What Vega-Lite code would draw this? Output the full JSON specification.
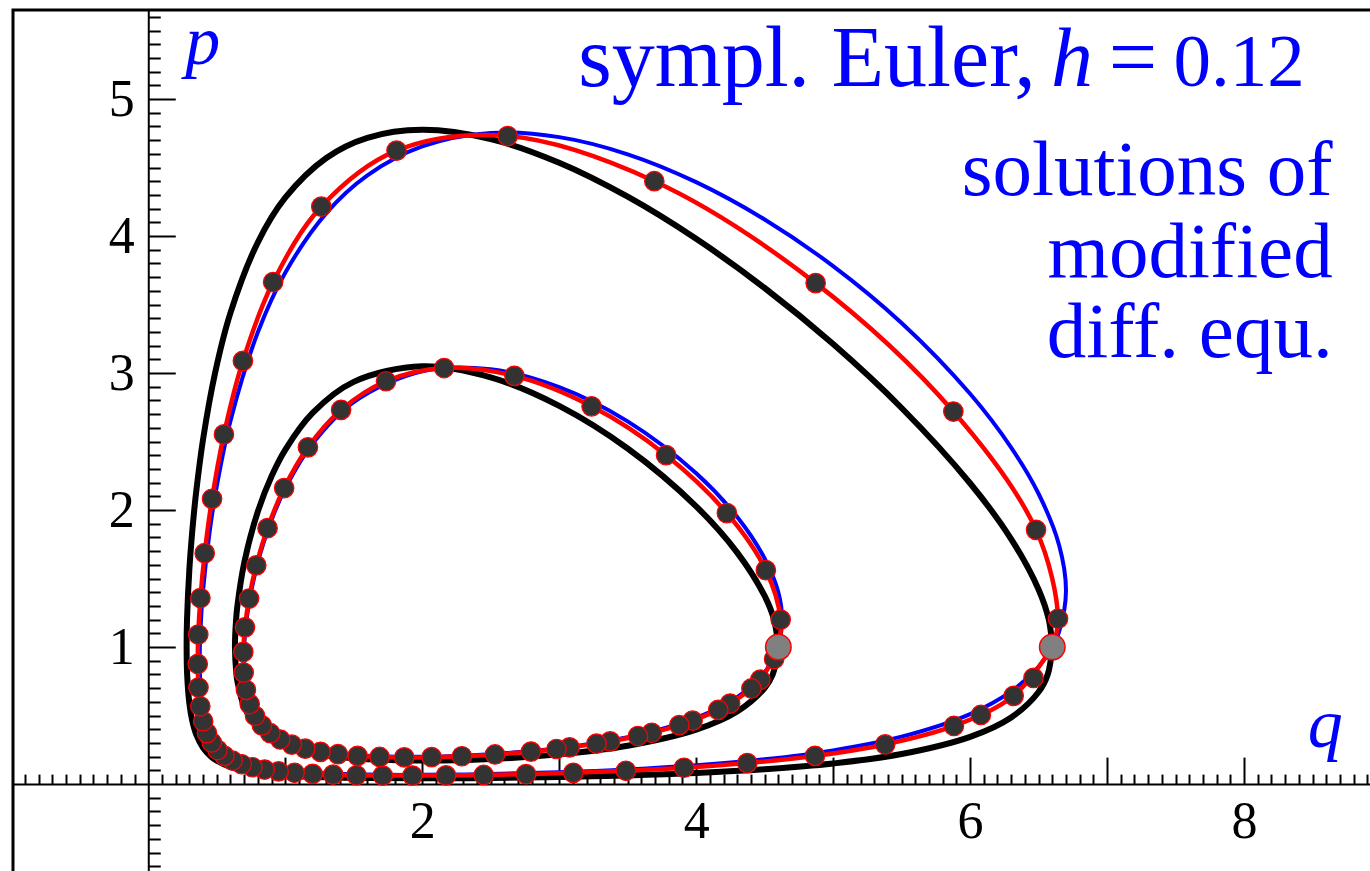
{
  "$schema": "https://vega.github.io/schema/vega-lite/v6.json",
  "width": 1368,
  "height": 870,
  "autosize": {"type": "none"},
  "padding": {"left": 13, "top": 10, "right": 0, "bottom": 0},
  "background": "white",
  "config": {
    "font": "Liberation Serif",
    "view": {"stroke": "black", "strokeWidth": 3},
    "axis": {"grid": false, "title": null},
    "text": {"font": "Liberation Serif"}
  },
  "datasets": {
    "black": [
      {"orbit": "outer", "i": 0, "q": 6.6, "p": 1.0},
      {"orbit": "outer", "i": 1, "q": 6.5668, "p": 0.8},
      {"orbit": "outer", "i": 2, "q": 6.5, "p": 0.6721},
      {"orbit": "outer", "i": 3, "q": 6.3, "p": 0.4865},
      {"orbit": "outer", "i": 4, "q": 6.0, "p": 0.3449},
      {"orbit": "outer", "i": 5, "q": 5.5, "p": 0.2196},
      {"orbit": "outer", "i": 6, "q": 5.0, "p": 0.1504},
      {"orbit": "outer", "i": 7, "q": 4.5, "p": 0.108},
      {"orbit": "outer", "i": 8, "q": 4.0, "p": 0.0806},
      {"orbit": "outer", "i": 9, "q": 3.5, "p": 0.0628},
      {"orbit": "outer", "i": 10, "q": 3.0, "p": 0.0512},
      {"orbit": "outer", "i": 11, "q": 2.5, "p": 0.0444},
      {"orbit": "outer", "i": 12, "q": 2.0, "p": 0.042},
      {"orbit": "outer", "i": 13, "q": 1.6, "p": 0.0441},
      {"orbit": "outer", "i": 14, "q": 1.3, "p": 0.0498},
      {"orbit": "outer", "i": 15, "q": 1.0, "p": 0.0632},
      {"orbit": "outer", "i": 16, "q": 0.8, "p": 0.0822},
      {"orbit": "outer", "i": 17, "q": 0.6, "p": 0.125},
      {"orbit": "outer", "i": 18, "q": 0.5, "p": 0.1705},
      {"orbit": "outer", "i": 19, "q": 0.459, "p": 0.2},
      {"orbit": "outer", "i": 20, "q": 0.4, "p": 0.2651},
      {"orbit": "outer", "i": 21, "q": 0.35, "p": 0.3632},
      {"orbit": "outer", "i": 22, "q": 0.32, "p": 0.468},
      {"orbit": "outer", "i": 23, "q": 0.3, "p": 0.5898},
      {"orbit": "outer", "i": 24, "q": 0.2838, "p": 0.8},
      {"orbit": "outer", "i": 25, "q": 0.28, "p": 1.0},
      {"orbit": "outer", "i": 26, "q": 0.2829, "p": 1.2},
      {"orbit": "outer", "i": 27, "q": 0.3, "p": 1.567},
      {"orbit": "outer", "i": 28, "q": 0.32, "p": 1.833},
      {"orbit": "outer", "i": 29, "q": 0.3356, "p": 2.0},
      {"orbit": "outer", "i": 30, "q": 0.35, "p": 2.134},
      {"orbit": "outer", "i": 31, "q": 0.4, "p": 2.516},
      {"orbit": "outer", "i": 32, "q": 0.4875, "p": 3.0},
      {"orbit": "outer", "i": 33, "q": 0.6, "p": 3.4395},
      {"orbit": "outer", "i": 34, "q": 0.8, "p": 3.9545},
      {"orbit": "outer", "i": 35, "q": 1.0, "p": 4.28},
      {"orbit": "outer", "i": 36, "q": 1.3, "p": 4.57},
      {"orbit": "outer", "i": 37, "q": 1.6, "p": 4.717},
      {"orbit": "outer", "i": 38, "q": 2.0, "p": 4.7755},
      {"orbit": "outer", "i": 39, "q": 2.5, "p": 4.7077},
      {"orbit": "outer", "i": 40, "q": 3.0, "p": 4.5348},
      {"orbit": "outer", "i": 41, "q": 3.5, "p": 4.287},
      {"orbit": "outer", "i": 42, "q": 4.0, "p": 3.9797},
      {"orbit": "outer", "i": 43, "q": 4.5, "p": 3.6209},
      {"orbit": "outer", "i": 44, "q": 5.0, "p": 3.2115},
      {"orbit": "outer", "i": 45, "q": 5.5, "p": 2.7451},
      {"orbit": "outer", "i": 46, "q": 6.0, "p": 2.1959},
      {"orbit": "outer", "i": 47, "q": 6.3, "p": 1.7885},
      {"orbit": "outer", "i": 48, "q": 6.5, "p": 1.4204},
      {"orbit": "outer", "i": 49, "q": 6.5746, "p": 1.2},
      {"orbit": "outer", "i": 50, "q": 6.6, "p": 1.0},
      {"orbit": "inner", "i": 0, "q": 4.6, "p": 1.0},
      {"orbit": "inner", "i": 1, "q": 4.559, "p": 0.8},
      {"orbit": "inner", "i": 2, "q": 4.5, "p": 0.7015},
      {"orbit": "inner", "i": 3, "q": 4.3, "p": 0.5299},
      {"orbit": "inner", "i": 4, "q": 4.0, "p": 0.3972},
      {"orbit": "inner", "i": 5, "q": 3.5, "p": 0.2798},
      {"orbit": "inner", "i": 6, "q": 3.0, "p": 0.217},
      {"orbit": "inner", "i": 7, "q": 2.5, "p": 0.1832},
      {"orbit": "inner", "i": 8, "q": 2.0, "p": 0.1716},
      {"orbit": "inner", "i": 9, "q": 1.5, "p": 0.1881},
      {"orbit": "inner", "i": 10, "q": 1.2, "p": 0.2262},
      {"orbit": "inner", "i": 11, "q": 1.0, "p": 0.282},
      {"orbit": "inner", "i": 12, "q": 0.9, "p": 0.3307},
      {"orbit": "inner", "i": 13, "q": 0.8, "p": 0.41},
      {"orbit": "inner", "i": 14, "q": 0.7, "p": 0.5669},
      {"orbit": "inner", "i": 15, "q": 0.65, "p": 0.7543},
      {"orbit": "inner", "i": 16, "q": 0.6437, "p": 0.8},
      {"orbit": "inner", "i": 17, "q": 0.6328, "p": 1.0},
      {"orbit": "inner", "i": 18, "q": 0.6411, "p": 1.2},
      {"orbit": "inner", "i": 19, "q": 0.65, "p": 1.2948},
      {"orbit": "inner", "i": 20, "q": 0.7, "p": 1.612},
      {"orbit": "inner", "i": 21, "q": 0.8, "p": 1.9894},
      {"orbit": "inner", "i": 22, "q": 0.9, "p": 2.2466},
      {"orbit": "inner", "i": 23, "q": 1.0, "p": 2.4398},
      {"orbit": "inner", "i": 24, "q": 1.2, "p": 2.7092},
      {"orbit": "inner", "i": 25, "q": 1.5, "p": 2.9358},
      {"orbit": "inner", "i": 26, "q": 2.0, "p": 3.049},
      {"orbit": "inner", "i": 27, "q": 2.5, "p": 2.9685},
      {"orbit": "inner", "i": 28, "q": 3.0, "p": 2.7605},
      {"orbit": "inner", "i": 29, "q": 3.5, "p": 2.4492},
      {"orbit": "inner", "i": 30, "q": 4.0, "p": 2.0271},
      {"orbit": "inner", "i": 31, "q": 4.3, "p": 1.6896},
      {"orbit": "inner", "i": 32, "q": 4.5, "p": 1.373},
      {"orbit": "inner", "i": 33, "q": 4.5687, "p": 1.2},
      {"orbit": "inner", "i": 34, "q": 4.6, "p": 1.0}
    ],
    "blue": [
      {"orbit": "outer", "i": 0, "q": 6.6, "p": 1.0},
      {"orbit": "outer", "i": 1, "q": 6.5, "p": 0.8559},
      {"orbit": "outer", "i": 2, "q": 6.3, "p": 0.6766},
      {"orbit": "outer", "i": 3, "q": 6.0, "p": 0.5109},
      {"orbit": "outer", "i": 4, "q": 5.5, "p": 0.346},
      {"orbit": "outer", "i": 5, "q": 5.0, "p": 0.2462},
      {"orbit": "outer", "i": 6, "q": 4.5, "p": 0.1809},
      {"orbit": "outer", "i": 7, "q": 4.0, "p": 0.1367},
      {"orbit": "outer", "i": 8, "q": 3.5, "p": 0.1064},
      {"orbit": "outer", "i": 9, "q": 3.0, "p": 0.0861},
      {"orbit": "outer", "i": 10, "q": 2.5, "p": 0.0733},
      {"orbit": "outer", "i": 11, "q": 2.0, "p": 0.0675},
      {"orbit": "outer", "i": 12, "q": 1.6, "p": 0.0692},
      {"orbit": "outer", "i": 13, "q": 1.3, "p": 0.0769},
      {"orbit": "outer", "i": 14, "q": 1.0, "p": 0.0967},
      {"orbit": "outer", "i": 15, "q": 0.8, "p": 0.1268},
      {"orbit": "outer", "i": 16, "q": 0.6, "p": 0.1999},
      {"orbit": "outer", "i": 17, "q": 0.5, "p": 0.2882},
      {"orbit": "outer", "i": 18, "q": 0.45, "p": 0.3737},
      {"orbit": "outer", "i": 19, "q": 0.4, "p": 0.5513},
      {"orbit": "outer", "i": 20, "q": 0.38, "p": 0.7413},
      {"orbit": "outer", "i": 21, "q": 0.3755, "p": 0.9},
      {"orbit": "outer", "i": 22, "q": 0.38, "p": 1.108},
      {"orbit": "outer", "i": 23, "q": 0.4, "p": 1.4148},
      {"orbit": "outer", "i": 24, "q": 0.45, "p": 1.8563},
      {"orbit": "outer", "i": 25, "q": 0.5, "p": 2.173},
      {"orbit": "outer", "i": 26, "q": 0.6, "p": 2.65},
      {"orbit": "outer", "i": 27, "q": 0.8, "p": 3.2973},
      {"orbit": "outer", "i": 28, "q": 1.0, "p": 3.7323},
      {"orbit": "outer", "i": 29, "q": 1.3, "p": 4.1674},
      {"orbit": "outer", "i": 30, "q": 1.6, "p": 4.443},
      {"orbit": "outer", "i": 31, "q": 2.0, "p": 4.654},
      {"orbit": "outer", "i": 32, "q": 2.5, "p": 4.752},
      {"orbit": "outer", "i": 33, "q": 3.0, "p": 4.722},
      {"orbit": "outer", "i": 34, "q": 3.5, "p": 4.5967},
      {"orbit": "outer", "i": 35, "q": 4.0, "p": 4.3934},
      {"orbit": "outer", "i": 36, "q": 4.5, "p": 4.121},
      {"orbit": "outer", "i": 37, "q": 5.0, "p": 3.7806},
      {"orbit": "outer", "i": 38, "q": 5.5, "p": 3.3652},
      {"orbit": "outer", "i": 39, "q": 6.0, "p": 2.8486},
      {"orbit": "outer", "i": 40, "q": 6.3, "p": 2.4561},
      {"orbit": "outer", "i": 41, "q": 6.5, "p": 2.1192},
      {"orbit": "outer", "i": 42, "q": 6.65, "p": 1.744},
      {"orbit": "outer", "i": 43, "q": 6.7, "p": 1.41},
      {"orbit": "outer", "i": 44, "q": 6.65, "p": 1.112},
      {"orbit": "outer", "i": 45, "q": 6.6, "p": 1.0},
      {"orbit": "inner", "i": 0, "q": 4.6, "p": 1.0},
      {"orbit": "inner", "i": 1, "q": 4.5, "p": 0.815},
      {"orbit": "inner", "i": 2, "q": 4.3, "p": 0.635},
      {"orbit": "inner", "i": 3, "q": 4.0, "p": 0.484},
      {"orbit": "inner", "i": 4, "q": 3.5, "p": 0.3427},
      {"orbit": "inner", "i": 5, "q": 3.0, "p": 0.2632},
      {"orbit": "inner", "i": 6, "q": 2.5, "p": 0.218},
      {"orbit": "inner", "i": 7, "q": 2.0, "p": 0.1989},
      {"orbit": "inner", "i": 8, "q": 1.5, "p": 0.212},
      {"orbit": "inner", "i": 9, "q": 1.2, "p": 0.2524},
      {"orbit": "inner", "i": 10, "q": 1.0, "p": 0.3161},
      {"orbit": "inner", "i": 11, "q": 0.9, "p": 0.3757},
      {"orbit": "inner", "i": 12, "q": 0.8, "p": 0.483},
      {"orbit": "inner", "i": 13, "q": 0.72, "p": 0.6904},
      {"orbit": "inner", "i": 14, "q": 0.699, "p": 0.928},
      {"orbit": "inner", "i": 15, "q": 0.72, "p": 1.2205},
      {"orbit": "inner", "i": 16, "q": 0.8, "p": 1.6183},
      {"orbit": "inner", "i": 17, "q": 0.9, "p": 1.9278},
      {"orbit": "inner", "i": 18, "q": 1.0, "p": 2.157},
      {"orbit": "inner", "i": 19, "q": 1.2, "p": 2.4852},
      {"orbit": "inner", "i": 20, "q": 1.5, "p": 2.7887},
      {"orbit": "inner", "i": 21, "q": 2.0, "p": 3.0137},
      {"orbit": "inner", "i": 22, "q": 2.5, "p": 3.0275},
      {"orbit": "inner", "i": 23, "q": 3.0, "p": 2.8975},
      {"orbit": "inner", "i": 24, "q": 3.5, "p": 2.6473},
      {"orbit": "inner", "i": 25, "q": 4.0, "p": 2.2692},
      {"orbit": "inner", "i": 26, "q": 4.3, "p": 1.9497},
      {"orbit": "inner", "i": 27, "q": 4.5, "p": 1.6471},
      {"orbit": "inner", "i": 28, "q": 4.6, "p": 1.4},
      {"orbit": "inner", "i": 29, "q": 4.628, "p": 1.19},
      {"orbit": "inner", "i": 30, "q": 4.6, "p": 1.0}
    ],
    "red": [
      {"orbit": "outer", "i": 0, "q": 6.6, "p": 1.0},
      {"orbit": "outer", "i": 1, "q": 6.3183, "p": 0.6443},
      {"orbit": "outer", "i": 2, "q": 5.8819, "p": 0.4244},
      {"orbit": "outer", "i": 3, "q": 5.3804, "p": 0.2895},
      {"orbit": "outer", "i": 4, "q": 4.8678, "p": 0.206},
      {"orbit": "outer", "i": 5, "q": 4.3732, "p": 0.1532},
      {"orbit": "outer", "i": 6, "q": 3.911, "p": 0.1193},
      {"orbit": "outer", "i": 7, "q": 3.4872, "p": 0.097},
      {"orbit": "outer", "i": 8, "q": 3.1032, "p": 0.0823},
      {"orbit": "outer", "i": 9, "q": 2.7579, "p": 0.0727},
      {"orbit": "outer", "i": 10, "q": 2.449, "p": 0.0667},
      {"orbit": "outer", "i": 11, "q": 2.1737, "p": 0.0632},
      {"orbit": "outer", "i": 12, "q": 1.929, "p": 0.062},
      {"orbit": "outer", "i": 13, "q": 1.712, "p": 0.0625},
      {"orbit": "outer", "i": 14, "q": 1.5199, "p": 0.0647},
      {"orbit": "outer", "i": 15, "q": 1.35, "p": 0.0687},
      {"orbit": "outer", "i": 16, "q": 1.2001, "p": 0.0745},
      {"orbit": "outer", "i": 17, "q": 1.068, "p": 0.0824},
      {"orbit": "outer", "i": 18, "q": 0.9517, "p": 0.0928},
      {"orbit": "outer", "i": 19, "q": 0.8496, "p": 0.1061},
      {"orbit": "outer", "i": 20, "q": 0.7602, "p": 0.1231},
      {"orbit": "outer", "i": 21, "q": 0.6822, "p": 0.1447},
      {"orbit": "outer", "i": 22, "q": 0.6144, "p": 0.1718},
      {"orbit": "outer", "i": 23, "q": 0.5559, "p": 0.2061},
      {"orbit": "outer", "i": 24, "q": 0.5058, "p": 0.2493},
      {"orbit": "outer", "i": 25, "q": 0.4635, "p": 0.3038},
      {"orbit": "outer", "i": 26, "q": 0.4286, "p": 0.3724},
      {"orbit": "outer", "i": 27, "q": 0.4008, "p": 0.459},
      {"orbit": "outer", "i": 28, "q": 0.38, "p": 0.5679},
      {"orbit": "outer", "i": 29, "q": 0.3666, "p": 0.705},
      {"orbit": "outer", "i": 30, "q": 0.3612, "p": 0.8769},
      {"orbit": "outer", "i": 31, "q": 0.3651, "p": 1.0915},
      {"orbit": "outer", "i": 32, "q": 0.3808, "p": 1.3579},
      {"orbit": "outer", "i": 33, "q": 0.4121, "p": 1.6854},
      {"orbit": "outer", "i": 34, "q": 0.4656, "p": 2.0822},
      {"orbit": "outer", "i": 35, "q": 0.5524, "p": 2.5521},
      {"orbit": "outer", "i": 36, "q": 0.6908, "p": 3.0886},
      {"orbit": "outer", "i": 37, "q": 0.9117, "p": 3.6643},
      {"orbit": "outer", "i": 38, "q": 1.2634, "p": 4.2147},
      {"orbit": "outer", "i": 39, "q": 1.8127, "p": 4.6234},
      {"orbit": "outer", "i": 40, "q": 2.624, "p": 4.7297},
      {"orbit": "outer", "i": 41, "q": 3.6947, "p": 4.4003},
      {"orbit": "outer", "i": 42, "q": 4.8725, "p": 3.6566},
      {"orbit": "outer", "i": 43, "q": 5.8778, "p": 2.7193},
      {"orbit": "outer", "i": 44, "q": 6.4814, "p": 1.8558},
      {"orbit": "outer", "i": 45, "q": 6.6422, "p": 1.2068},
      {"orbit": "outer", "i": 46, "q": 6.6, "p": 1.0},
      {"orbit": "inner", "i": 0, "q": 4.6, "p": 1.0},
      {"orbit": "inner", "i": 1, "q": 4.4687, "p": 0.7622},
      {"orbit": "inner", "i": 2, "q": 4.2478, "p": 0.588},
      {"orbit": "inner", "i": 3, "q": 3.9741, "p": 0.4631},
      {"orbit": "inner", "i": 4, "q": 3.6758, "p": 0.3744},
      {"orbit": "inner", "i": 5, "q": 3.3722, "p": 0.3117},
      {"orbit": "inner", "i": 6, "q": 3.0758, "p": 0.2677},
      {"orbit": "inner", "i": 7, "q": 2.7942, "p": 0.2371},
      {"orbit": "inner", "i": 8, "q": 2.5315, "p": 0.2164},
      {"orbit": "inner", "i": 9, "q": 2.2895, "p": 0.2034},
      {"orbit": "inner", "i": 10, "q": 2.0688, "p": 0.1966},
      {"orbit": "inner", "i": 11, "q": 1.8689, "p": 0.195},
      {"orbit": "inner", "i": 12, "q": 1.6891, "p": 0.1981},
      {"orbit": "inner", "i": 13, "q": 1.5281, "p": 0.2058},
      {"orbit": "inner", "i": 14, "q": 1.3848, "p": 0.2182},
      {"orbit": "inner", "i": 15, "q": 1.2577, "p": 0.2355},
      {"orbit": "inner", "i": 16, "q": 1.1458, "p": 0.2586},
      {"orbit": "inner", "i": 17, "q": 1.0479, "p": 0.2881},
      {"orbit": "inner", "i": 18, "q": 0.9631, "p": 0.3253},
      {"orbit": "inner", "i": 19, "q": 0.8905, "p": 0.3715},
      {"orbit": "inner", "i": 20, "q": 0.8294, "p": 0.4285},
      {"orbit": "inner", "i": 21, "q": 0.7795, "p": 0.4986},
      {"orbit": "inner", "i": 22, "q": 0.7406, "p": 0.5841},
      {"orbit": "inner", "i": 23, "q": 0.7129, "p": 0.6881},
      {"orbit": "inner", "i": 24, "q": 0.6969, "p": 0.8138},
      {"orbit": "inner", "i": 25, "q": 0.694, "p": 0.9647},
      {"orbit": "inner", "i": 26, "q": 0.706, "p": 1.1439},
      {"orbit": "inner", "i": 27, "q": 0.736, "p": 1.3542},
      {"orbit": "inner", "i": 28, "q": 0.7887, "p": 1.5964},
      {"orbit": "inner", "i": 29, "q": 0.8708, "p": 1.8679},
      {"orbit": "inner", "i": 30, "q": 0.9921, "p": 2.1607},
      {"orbit": "inner", "i": 31, "q": 1.1656, "p": 2.458},
      {"orbit": "inner", "i": 32, "q": 1.4078, "p": 2.7315},
      {"orbit": "inner", "i": 33, "q": 1.7356, "p": 2.9404},
      {"orbit": "inner", "i": 34, "q": 2.1599, "p": 3.0367},
      {"orbit": "inner", "i": 35, "q": 2.6729, "p": 2.9796},
      {"orbit": "inner", "i": 36, "q": 3.2365, "p": 2.757},
      {"orbit": "inner", "i": 37, "q": 3.7805, "p": 2.4007},
      {"orbit": "inner", "i": 38, "q": 4.2242, "p": 1.9781},
      {"orbit": "inner", "i": 39, "q": 4.5088, "p": 1.5614},
      {"orbit": "inner", "i": 40, "q": 4.617, "p": 1.2001},
      {"orbit": "inner", "i": 41, "q": 4.6, "p": 1.0}
    ],
    "steps": [
      {"orbit": "outer", "n": 1, "q": 6.3183, "p": 0.6443},
      {"orbit": "outer", "n": 2, "q": 5.8819, "p": 0.4244},
      {"orbit": "outer", "n": 3, "q": 5.3804, "p": 0.2895},
      {"orbit": "outer", "n": 4, "q": 4.8678, "p": 0.206},
      {"orbit": "outer", "n": 5, "q": 4.3732, "p": 0.1532},
      {"orbit": "outer", "n": 6, "q": 3.911, "p": 0.1193},
      {"orbit": "outer", "n": 7, "q": 3.4872, "p": 0.097},
      {"orbit": "outer", "n": 8, "q": 3.1032, "p": 0.0823},
      {"orbit": "outer", "n": 9, "q": 2.7579, "p": 0.0727},
      {"orbit": "outer", "n": 10, "q": 2.449, "p": 0.0667},
      {"orbit": "outer", "n": 11, "q": 2.1737, "p": 0.0632},
      {"orbit": "outer", "n": 12, "q": 1.929, "p": 0.062},
      {"orbit": "outer", "n": 13, "q": 1.712, "p": 0.0625},
      {"orbit": "outer", "n": 14, "q": 1.5199, "p": 0.0647},
      {"orbit": "outer", "n": 15, "q": 1.35, "p": 0.0687},
      {"orbit": "outer", "n": 16, "q": 1.2001, "p": 0.0745},
      {"orbit": "outer", "n": 17, "q": 1.068, "p": 0.0824},
      {"orbit": "outer", "n": 18, "q": 0.9517, "p": 0.0928},
      {"orbit": "outer", "n": 19, "q": 0.8496, "p": 0.1061},
      {"orbit": "outer", "n": 20, "q": 0.7602, "p": 0.1231},
      {"orbit": "outer", "n": 21, "q": 0.6822, "p": 0.1447},
      {"orbit": "outer", "n": 22, "q": 0.6144, "p": 0.1718},
      {"orbit": "outer", "n": 23, "q": 0.5559, "p": 0.2061},
      {"orbit": "outer", "n": 24, "q": 0.5058, "p": 0.2493},
      {"orbit": "outer", "n": 25, "q": 0.4635, "p": 0.3038},
      {"orbit": "outer", "n": 26, "q": 0.4286, "p": 0.3724},
      {"orbit": "outer", "n": 27, "q": 0.4008, "p": 0.459},
      {"orbit": "outer", "n": 28, "q": 0.38, "p": 0.5679},
      {"orbit": "outer", "n": 29, "q": 0.3666, "p": 0.705},
      {"orbit": "outer", "n": 30, "q": 0.3612, "p": 0.8769},
      {"orbit": "outer", "n": 31, "q": 0.3651, "p": 1.0915},
      {"orbit": "outer", "n": 32, "q": 0.3808, "p": 1.3579},
      {"orbit": "outer", "n": 33, "q": 0.4121, "p": 1.6854},
      {"orbit": "outer", "n": 34, "q": 0.4656, "p": 2.0822},
      {"orbit": "outer", "n": 35, "q": 0.5524, "p": 2.5521},
      {"orbit": "outer", "n": 36, "q": 0.6908, "p": 3.0886},
      {"orbit": "outer", "n": 37, "q": 0.9117, "p": 3.6643},
      {"orbit": "outer", "n": 38, "q": 1.2634, "p": 4.2147},
      {"orbit": "outer", "n": 39, "q": 1.8127, "p": 4.6234},
      {"orbit": "outer", "n": 40, "q": 2.624, "p": 4.7297},
      {"orbit": "outer", "n": 41, "q": 3.6947, "p": 4.4003},
      {"orbit": "outer", "n": 42, "q": 4.8725, "p": 3.6566},
      {"orbit": "outer", "n": 43, "q": 5.8778, "p": 2.7193},
      {"orbit": "outer", "n": 44, "q": 6.4814, "p": 1.8558},
      {"orbit": "outer", "n": 45, "q": 6.6422, "p": 1.2068},
      {"orbit": "outer", "n": 46, "q": 6.4629, "p": 0.775},
      {"orbit": "outer", "n": 47, "q": 6.0788, "p": 0.5047},
      {"orbit": "inner", "n": 1, "q": 4.4687, "p": 0.7622},
      {"orbit": "inner", "n": 2, "q": 4.2478, "p": 0.588},
      {"orbit": "inner", "n": 3, "q": 3.9741, "p": 0.4631},
      {"orbit": "inner", "n": 4, "q": 3.6758, "p": 0.3744},
      {"orbit": "inner", "n": 5, "q": 3.3722, "p": 0.3117},
      {"orbit": "inner", "n": 6, "q": 3.0758, "p": 0.2677},
      {"orbit": "inner", "n": 7, "q": 2.7942, "p": 0.2371},
      {"orbit": "inner", "n": 8, "q": 2.5315, "p": 0.2164},
      {"orbit": "inner", "n": 9, "q": 2.2895, "p": 0.2034},
      {"orbit": "inner", "n": 10, "q": 2.0688, "p": 0.1966},
      {"orbit": "inner", "n": 11, "q": 1.8689, "p": 0.195},
      {"orbit": "inner", "n": 12, "q": 1.6891, "p": 0.1981},
      {"orbit": "inner", "n": 13, "q": 1.5281, "p": 0.2058},
      {"orbit": "inner", "n": 14, "q": 1.3848, "p": 0.2182},
      {"orbit": "inner", "n": 15, "q": 1.2577, "p": 0.2355},
      {"orbit": "inner", "n": 16, "q": 1.1458, "p": 0.2586},
      {"orbit": "inner", "n": 17, "q": 1.0479, "p": 0.2881},
      {"orbit": "inner", "n": 18, "q": 0.9631, "p": 0.3253},
      {"orbit": "inner", "n": 19, "q": 0.8905, "p": 0.3715},
      {"orbit": "inner", "n": 20, "q": 0.8294, "p": 0.4285},
      {"orbit": "inner", "n": 21, "q": 0.7795, "p": 0.4986},
      {"orbit": "inner", "n": 22, "q": 0.7406, "p": 0.5841},
      {"orbit": "inner", "n": 23, "q": 0.7129, "p": 0.6881},
      {"orbit": "inner", "n": 24, "q": 0.6969, "p": 0.8138},
      {"orbit": "inner", "n": 25, "q": 0.694, "p": 0.9647},
      {"orbit": "inner", "n": 26, "q": 0.706, "p": 1.1439},
      {"orbit": "inner", "n": 27, "q": 0.736, "p": 1.3542},
      {"orbit": "inner", "n": 28, "q": 0.7887, "p": 1.5964},
      {"orbit": "inner", "n": 29, "q": 0.8708, "p": 1.8679},
      {"orbit": "inner", "n": 30, "q": 0.9921, "p": 2.1607},
      {"orbit": "inner", "n": 31, "q": 1.1656, "p": 2.458},
      {"orbit": "inner", "n": 32, "q": 1.4078, "p": 2.7315},
      {"orbit": "inner", "n": 33, "q": 1.7356, "p": 2.9404},
      {"orbit": "inner", "n": 34, "q": 2.1599, "p": 3.0367},
      {"orbit": "inner", "n": 35, "q": 2.6729, "p": 2.9796},
      {"orbit": "inner", "n": 36, "q": 3.2365, "p": 2.757},
      {"orbit": "inner", "n": 37, "q": 3.7805, "p": 2.4007},
      {"orbit": "inner", "n": 38, "q": 4.2242, "p": 1.9781},
      {"orbit": "inner", "n": 39, "q": 4.5088, "p": 1.5614},
      {"orbit": "inner", "n": 40, "q": 4.617, "p": 1.2001},
      {"orbit": "inner", "n": 41, "q": 4.569, "p": 0.9133},
      {"orbit": "inner", "n": 42, "q": 4.4035, "p": 0.6981},
      {"orbit": "inner", "n": 43, "q": 4.1613, "p": 0.5418},
      {"orbit": "inner", "n": 44, "q": 3.8768, "p": 0.4302},
      {"orbit": "inner", "n": 45, "q": 3.575, "p": 0.3512},
      {"orbit": "inner", "n": 46, "q": 3.2727, "p": 0.2953},
      {"orbit": "inner", "n": 47, "q": 2.9806, "p": 0.2562}
    ],
    "starts": [
      {"orbit": "outer", "n": 0, "q": 6.6, "p": 1.0},
      {"orbit": "inner", "n": 0, "q": 4.6, "p": 1.0}
    ]
  },
  "layer": [
    {
      "data": {"name": "black"},
      "mark": {"type": "line", "color": "black", "strokeWidth": 6, "interpolate": "catmull-rom", "strokeCap": "round", "strokeJoin": "round"},
      "encoding": {
        "x": {"field": "q", "type": "quantitative", "scale": {"domain": [-0.9876, 9.0], "nice": false, "zero": false},
          "axis": {"orient": "top", "offset": -774.09, "labels": false, "tickSize": 10, "tickWidth": 2, "tickColor": "black", "domain": true, "domainColor": "black", "domainWidth": 2, "title": null, "grid": false,
            "values": [-0.9,-0.8,-0.7,-0.6,-0.5,-0.4,-0.3,-0.2,-0.1,0.1,0.2,0.3,0.4,0.5,0.6,0.7,0.8,0.9,1.1,1.2,1.3,1.4,1.5,1.6,1.7,1.8,1.9,2.1,2.2,2.3,2.4,2.5,2.6,2.7,2.8,2.9,3.1,3.2,3.3,3.4,3.5,3.6,3.7,3.8,3.9,4.1,4.2,4.3,4.4,4.5,4.6,4.7,4.8,4.9,5.1,5.2,5.3,5.4,5.5,5.6,5.7,5.8,5.9,6.1,6.2,6.3,6.4,6.5,6.6,6.7,6.8,6.9,7.1,7.2,7.3,7.4,7.5,7.6,7.7,7.8,7.9,8.1,8.2,8.3,8.4,8.5,8.6,8.7,8.8,8.9]}},
        "y": {"field": "p", "type": "quantitative", "scale": {"domain": [-0.7, 5.65], "nice": false, "zero": false},
          "axis": {"orient": "right", "offset": -1232.73, "labels": false, "tickSize": 12, "tickWidth": 2, "tickColor": "black", "domain": true, "domainColor": "black", "domainWidth": 2, "title": null, "grid": false,
            "values": [-0.6,-0.5,-0.4,-0.3,-0.2,-0.1,0.1,0.2,0.3,0.4,0.5,0.6,0.7,0.8,0.9,1.1,1.2,1.3,1.4,1.5,1.6,1.7,1.8,1.9,2.1,2.2,2.3,2.4,2.5,2.6,2.7,2.8,2.9,3.1,3.2,3.3,3.4,3.5,3.6,3.7,3.8,3.9,4.1,4.2,4.3,4.4,4.5,4.6,4.7,4.8,4.9,5.1,5.2,5.3,5.4,5.5,5.6]}},
        "detail": {"field": "orbit"},
        "order": {"field": "i", "type": "quantitative"}
      }
    },
    {
      "data": {"name": "blue"},
      "mark": {"type": "line", "color": "#0000ff", "strokeWidth": 4, "interpolate": "catmull-rom", "strokeCap": "round", "strokeJoin": "round"},
      "encoding": {
        "x": {"field": "q", "type": "quantitative", "scale": {"domain": [-0.9876, 9.0], "nice": false, "zero": false},
          "axis": {"orient": "top", "offset": -774.09, "labels": false, "tickSize": 27, "tickWidth": 2, "tickColor": "black", "domain": false, "title": null, "grid": false, "values": [1, 2, 3, 4, 5, 6, 7, 8]}},
        "y": {"field": "p", "type": "quantitative", "scale": {"domain": [-0.7, 5.65], "nice": false, "zero": false},
          "axis": {"orient": "right", "offset": -1232.73, "labels": false, "tickSize": 27, "tickWidth": 2, "tickColor": "black", "domain": false, "title": null, "grid": false, "values": [1, 2, 3, 4, 5]}},
        "detail": {"field": "orbit"},
        "order": {"field": "i", "type": "quantitative"}
      }
    },
    {
      "data": {"name": "red"},
      "mark": {"type": "line", "color": "#ff0000", "strokeWidth": 4.5, "interpolate": "catmull-rom", "strokeCap": "round", "strokeJoin": "round"},
      "encoding": {
        "x": {"field": "q", "type": "quantitative", "scale": {"domain": [-0.9876, 9.0], "nice": false, "zero": false},
          "axis": {"orient": "bottom", "offset": -95.91, "ticks": false, "domain": false, "labelPadding": 12, "labelFont": "Liberation Serif", "labelFontSize": 52, "labelColor": "black", "labelFlush": false, "labelOverlap": false, "title": null, "grid": false, "values": [2, 4, 6, 8]}},
        "y": {"field": "p", "type": "quantitative", "scale": {"domain": [-0.7, 5.65], "nice": false, "zero": false},
          "axis": {"orient": "left", "offset": -135.27, "ticks": false, "domain": false, "labelPadding": 14, "labelFont": "Liberation Serif", "labelFontSize": 52, "labelColor": "black", "labelFlush": false, "labelOverlap": false, "title": null, "grid": false, "values": [1, 2, 3, 4, 5]}},
        "detail": {"field": "orbit"},
        "order": {"field": "i", "type": "quantitative"}
      }
    },
    {
      "data": {"name": "steps"},
      "mark": {"type": "point", "shape": "circle", "filled": true, "fill": "#333333", "stroke": "#ff0000", "strokeWidth": 1.2, "opacity": 1, "size": 380},
      "encoding": {
        "x": {"field": "q", "type": "quantitative", "axis": null},
        "y": {"field": "p", "type": "quantitative", "axis": null}
      }
    },
    {
      "data": {"name": "starts"},
      "mark": {"type": "point", "shape": "circle", "filled": true, "fill": "#808080", "stroke": "#ff0000", "strokeWidth": 1.5, "opacity": 1, "size": 650},
      "encoding": {
        "x": {"field": "q", "type": "quantitative", "axis": null},
        "y": {"field": "p", "type": "quantitative", "axis": null}
      }
    },
    {
      "data": {"values": [{"t": "p"}]},
      "mark": {"type": "text", "font": "Liberation Serif", "fontSize": 70, "fontStyle": "italic", "color": "#0000ff", "align": "left", "baseline": "alphabetic"},
      "encoding": {
        "x": {"datum": 0.27, "type": "quantitative", "axis": null},
        "y": {"datum": 5.255, "type": "quantitative", "axis": null},
        "text": {"field": "t"}
      }
    },
    {
      "data": {"values": [{"t": "q"}]},
      "mark": {"type": "text", "font": "Liberation Serif", "fontSize": 70, "fontStyle": "italic", "color": "#0000ff", "align": "left", "baseline": "alphabetic"},
      "encoding": {
        "x": {"datum": 8.465, "type": "quantitative", "axis": null},
        "y": {"datum": 0.27, "type": "quantitative", "axis": null},
        "text": {"field": "t"}
      }
    },
    {
      "data": {"values": [{"t": "sympl. Euler,"}]},
      "mark": {"type": "text", "font": "Liberation Serif", "fontSize": 86, "color": "#0000ff", "align": "right", "baseline": "alphabetic"},
      "encoding": {
        "x": {"datum": 6.48, "type": "quantitative", "axis": null},
        "y": {"datum": 5.095, "type": "quantitative", "axis": null},
        "text": {"field": "t"}
      }
    },
    {
      "data": {"values": [{"t": "h"}]},
      "mark": {"type": "text", "font": "Liberation Serif", "fontSize": 84, "fontStyle": "italic", "color": "#0000ff", "align": "left", "baseline": "alphabetic"},
      "encoding": {
        "x": {"datum": 6.59, "type": "quantitative", "axis": null},
        "y": {"datum": 5.095, "type": "quantitative", "axis": null},
        "text": {"field": "t"}
      }
    },
    {
      "data": {"values": [{"t": "="}]},
      "mark": {"type": "text", "font": "Liberation Serif", "fontSize": 86, "color": "#0000ff", "align": "center", "baseline": "alphabetic"},
      "encoding": {
        "x": {"datum": 7.19, "type": "quantitative", "axis": null},
        "y": {"datum": 5.095, "type": "quantitative", "axis": null},
        "text": {"field": "t"}
      }
    },
    {
      "data": {"values": [{"t": "0.12"}]},
      "mark": {"type": "text", "font": "Liberation Serif", "fontSize": 75, "color": "#0000ff", "align": "right", "baseline": "alphabetic"},
      "encoding": {
        "x": {"datum": 8.443, "type": "quantitative", "axis": null},
        "y": {"datum": 5.095, "type": "quantitative", "axis": null},
        "text": {"field": "t"}
      }
    },
    {
      "data": {"values": [{"t": "solutions of"}]},
      "mark": {"type": "text", "font": "Liberation Serif", "fontSize": 79, "color": "#0000ff", "align": "right", "baseline": "alphabetic"},
      "encoding": {
        "x": {"datum": 8.647, "type": "quantitative", "axis": null},
        "y": {"datum": 4.299, "type": "quantitative", "axis": null},
        "text": {"field": "t"}
      }
    },
    {
      "data": {"values": [{"t": "modified"}]},
      "mark": {"type": "text", "font": "Liberation Serif", "fontSize": 79, "color": "#0000ff", "align": "right", "baseline": "alphabetic"},
      "encoding": {
        "x": {"datum": 8.647, "type": "quantitative", "axis": null},
        "y": {"datum": 3.703, "type": "quantitative", "axis": null},
        "text": {"field": "t"}
      }
    },
    {
      "data": {"values": [{"t": "diff. equ."}]},
      "mark": {"type": "text", "font": "Liberation Serif", "fontSize": 79, "color": "#0000ff", "align": "right", "baseline": "alphabetic"},
      "encoding": {
        "x": {"datum": 8.647, "type": "quantitative", "axis": null},
        "y": {"datum": 3.117, "type": "quantitative", "axis": null},
        "text": {"field": "t"}
      }
    }
  ],
  "resolve": {"axis": {"x": "independent", "y": "independent"}}
}
